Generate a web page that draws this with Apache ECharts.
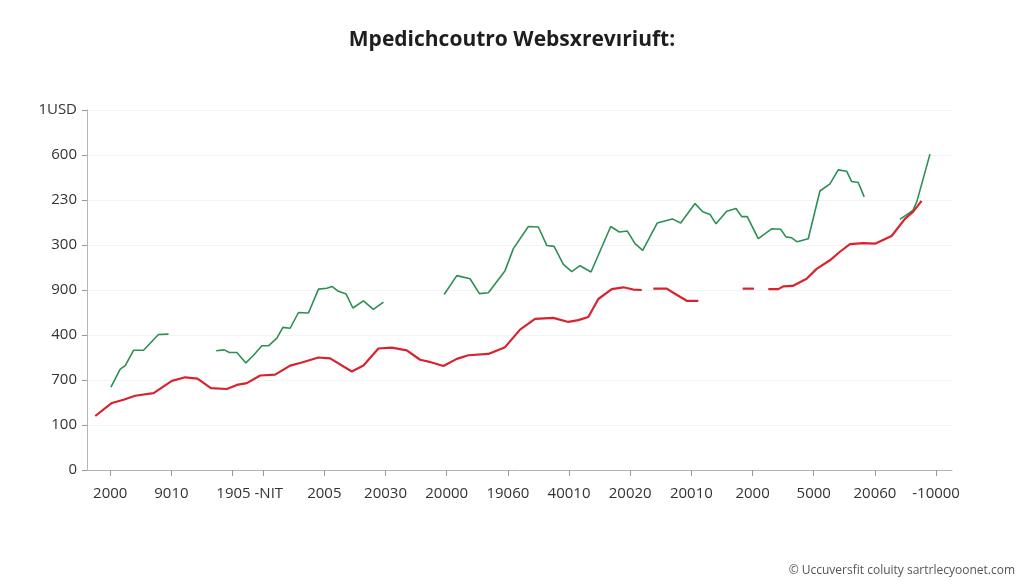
<!DOCTYPE html>
<html>
<head>
<meta charset="utf-8">
<script src="https://cdn.jsdelivr.net/npm/echarts@6/dist/echarts.min.js"></script>
<style>
  html, body { margin: 0; padding: 0; background: #fff; }
  #chart { width: 1024px; height: 585px; }
</style>
</head>
<body>
<div id="chart"></div>
<script>
// y ticks are index values 0..8, labelled with the text shown on the picture
const Y_LABELS = ["0", "100", "700", "400", "900", "300", "230", "600", "1USD"];

// x tick positions / labels (in axis units)
const X_TICKS = [0, 10, 20, 25, 35, 45, 55, 65, 75, 85, 95, 105, 115, 125, 135];
const X_LABEL_POS = [0, 10, 22.8, 35, 45, 55, 65, 75, 85, 95, 105, 115, 125, 135];
const X_LABELS = ["2000", "9010", "1905 -NIT", "2005", "20030", "20000", "19060",
  "40010", "20020", "20010", "2000", "5000", "20060", "-10000"];

// red line, broken into pieces where the picture has gaps
const red1 = [
  [-2.45, 1.20], [0.28, 1.49], [2.17, 1.56], [4.08, 1.65], [7.08, 1.71], [10.08, 1.98],
  [12.25, 2.06], [14.26, 2.03], [16.45, 1.82], [19.07, 1.80], [20.70, 1.89], [22.34, 1.93],
  [24.51, 2.10], [26.96, 2.12], [29.41, 2.32], [31.32, 2.39], [34.04, 2.50], [35.95, 2.48],
  [39.49, 2.19], [41.39, 2.32], [43.84, 2.70], [46.03, 2.72], [48.48, 2.66], [50.65, 2.45],
  [52.01, 2.41], [54.46, 2.31], [56.65, 2.47], [58.55, 2.55], [61.81, 2.58], [64.54, 2.73],
  [66.99, 3.12], [69.44, 3.36], [72.43, 3.38], [74.89, 3.29], [76.52, 3.33], [78.15, 3.40],
  [79.79, 3.80], [81.98, 4.02], [83.87, 4.06], [85.51, 4.01], [86.88, 4.00],
];
const red2 = [[88.77, 4.03], [90.96, 4.03], [92.04, 3.94], [94.23, 3.76], [96.13, 3.76]];
const red3 = [[103.38, 4.03], [105.23, 4.03]];
const red4 = [
  [107.57, 4.02], [109.20, 4.02], [110.02, 4.08], [111.55, 4.09], [113.84, 4.25],
  [115.47, 4.47], [117.65, 4.66], [119.28, 4.85], [120.92, 5.02], [123.09, 5.04],
  [125.0, 5.03], [127.73, 5.20], [129.90, 5.58], [131.26, 5.74], [132.63, 5.98],
];

// green line pieces
const green1 = [[0.11, 1.84], [1.63, 2.24], [2.45, 2.32], [3.81, 2.66], [5.44, 2.66], [7.89, 3.01], [9.53, 3.02]];
const green2 = [
  [17.32, 2.65], [18.63, 2.67], [19.49, 2.61], [20.70, 2.61], [22.17, 2.38], [23.42, 2.55],
  [24.79, 2.76], [25.87, 2.76], [27.24, 2.93], [28.22, 3.17], [29.41, 3.15], [30.77, 3.50],
  [32.40, 3.49], [34.04, 4.02], [35.41, 4.04], [36.23, 4.08], [37.30, 3.97], [38.56, 3.91],
  [39.66, 3.60], [41.39, 3.76], [43.02, 3.57], [44.66, 3.73],
];
const green3 = [
  [54.58, 3.90], [56.65, 4.32], [58.82, 4.25], [60.34, 3.92], [61.81, 3.94], [64.54, 4.43],
  [65.90, 4.92], [68.35, 5.41], [69.98, 5.40], [71.36, 4.99], [72.55, 4.97], [74.07, 4.57],
  [75.44, 4.41], [76.80, 4.54], [78.59, 4.40], [81.81, 5.41], [83.22, 5.29], [84.53, 5.31],
  [85.78, 5.03], [87.04, 4.88], [89.43, 5.49], [91.88, 5.58], [93.25, 5.49], [95.59, 5.92],
  [96.85, 5.74], [98.04, 5.68], [99.02, 5.47], [100.77, 5.75], [102.29, 5.81], [103.22, 5.63],
  [104.13, 5.63], [105.93, 5.14], [108.12, 5.36], [109.59, 5.35], [110.46, 5.18], [111.39, 5.16],
  [112.30, 5.07], [114.10, 5.14], [116.01, 6.20], [117.65, 6.36], [119.0, 6.67], [120.38, 6.64],
  [121.19, 6.41], [122.27, 6.39], [123.25, 6.07],
];
const green4 = [[129.08, 5.57], [131.21, 5.77], [131.86, 5.97], [134.0, 7.02]];

const RED = "#d8232f";
const GREEN = "#2e8f55";
const FONT = "'Open Sans', 'Noto Sans', sans-serif";

const chart = echarts.init(document.getElementById("chart"), null, { renderer: "canvas" });

function lineSeries(data, color, width) {
  return {
    type: "line",
    data: data,
    symbol: "none",
    animation: false,
    lineStyle: { color: color, width: width },
    z: color === RED ? 3 : 2,
  };
}

chart.setOption({
  backgroundColor: "#fff",
  title: {
    text: "Mpedichcoutro Websxrevıriuft:",
    left: "center",
    top: 25,
    textStyle: { color: "#1e1e1e", fontSize: 21, fontWeight: "bold", fontFamily: FONT },
  },
  graphic: [{
    type: "text",
    right: 9,
    bottom: 8,
    style: {
      text: "© Uccuversfit coluity sartrlecyoonet.com",
      fill: "#555",
      font: "12px " + FONT,
    },
  }],
  grid: { left: 87, right: 72, top: 110, bottom: 115 },
  xAxis: {
    type: "value",
    min: -3.8,
    max: 137.6,
    splitLine: { show: false },
    axisLine: { show: true, onZero: false, lineStyle: { color: "#b5b5b5", width: 1 } },
    axisTick: { show: true, customValues: X_TICKS, length: 6, lineStyle: { color: "#999" } },
    axisLabel: {
      customValues: X_LABEL_POS,
      margin: 16,
      color: "#333",
      fontSize: 15,
      fontFamily: FONT,
      formatter: (v) => {
        const i = X_LABEL_POS.findIndex((p) => Math.abs(p - v) < 0.01);
        return i >= 0 ? X_LABELS[i] : "";
      },
    },
  },
  yAxis: {
    type: "value",
    min: 0,
    max: 8,
    interval: 1,
    axisLine: { show: true, onZero: false, lineStyle: { color: "#b5b5b5", width: 1 } },
    axisTick: { show: true, length: 5, lineStyle: { color: "#999" } },
    splitLine: { show: true, lineStyle: { color: "#f3f3f3" } },
    axisLabel: {
      color: "#333",
      fontSize: 15,
      fontFamily: FONT,
      margin: 10,
      formatter: (v) => Y_LABELS[Math.round(v)] || "",
    },
  },
  series: [
    lineSeries(green1, GREEN, 1.6),
    lineSeries(green2, GREEN, 1.6),
    lineSeries(green3, GREEN, 1.6),
    lineSeries(green4, GREEN, 1.6),
    lineSeries(red1, RED, 2.2),
    lineSeries(red2, RED, 2.2),
    lineSeries(red3, RED, 2.2),
    lineSeries(red4, RED, 2.2),
  ],
});
</script>
</body>
</html>
